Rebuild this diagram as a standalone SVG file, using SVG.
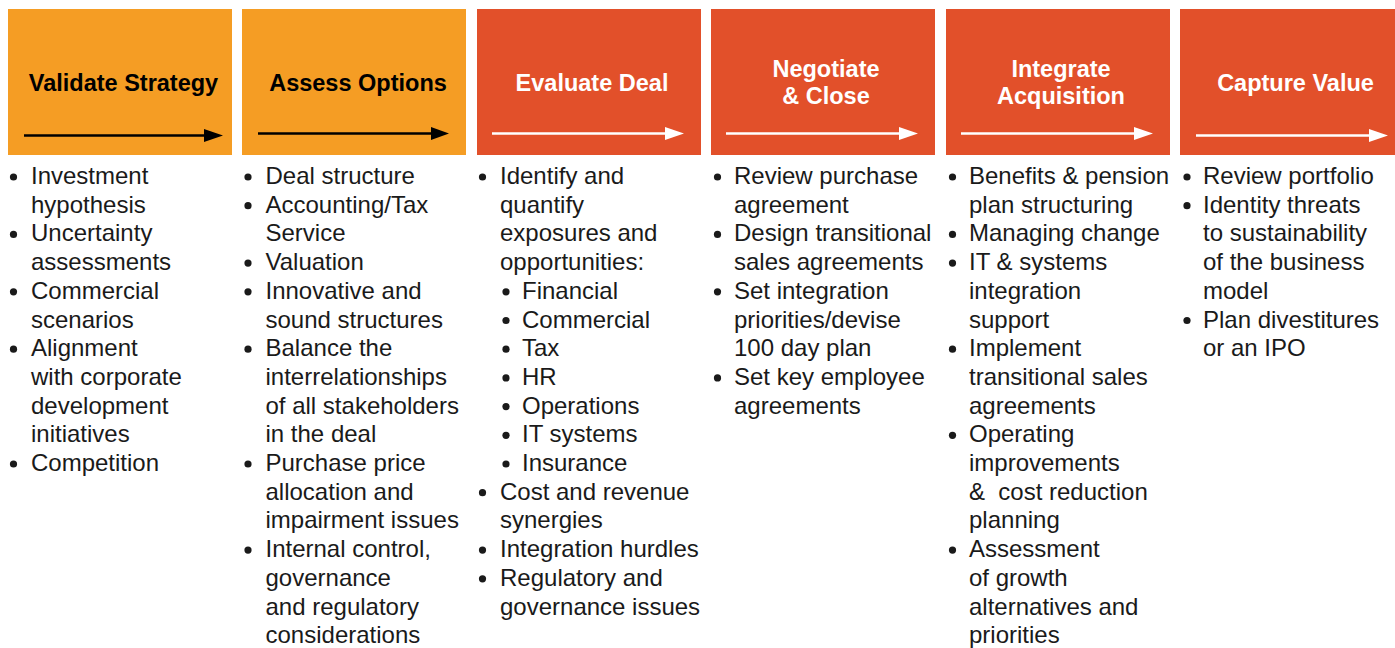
<svg xmlns="http://www.w3.org/2000/svg" width="1395" height="648" viewBox="0 0 1395 648">
<style>
.orange{fill:#F59D24}
.red{fill:#E2502A}
.tb{font-family:"Liberation Sans",Arial,Helvetica,sans-serif;font-weight:bold;font-size:23.5px;text-anchor:middle}
.tk{fill:#000}
.tw{fill:#fff}
.body{font-family:"Liberation Sans",Arial,Helvetica,sans-serif;font-size:24px;fill:#1a1a1a}
.dot{fill:#1a1a1a}
.lk{stroke:#000;stroke-width:2.4;fill:none}
.lw{stroke:#fff;stroke-width:2.4;fill:none}
.hk{fill:#000}
.hw{fill:#fff}
</style>
<rect width="1395" height="648" fill="#fff"/>

<g id="node-validate-strategy">
<rect class="orange" x="8" y="9" width="224" height="146"/>
<text class="tb tk" x="123.5" y="91">Validate Strategy</text>
<g class="body-list">
<circle class="dot" cx="13.5" cy="177" r="3.6"/>
<circle class="dot" cx="13.5" cy="234.4" r="3.6"/>
<circle class="dot" cx="13.5" cy="291.8" r="3.6"/>
<circle class="dot" cx="13.5" cy="349.2" r="3.6"/>
<circle class="dot" cx="13.5" cy="464" r="3.6"/>
<text class="body">
<tspan x="31" y="184">Investment</tspan>
<tspan x="31" y="212.7">hypothesis</tspan>
<tspan x="31" y="241.4">Uncertainty</tspan>
<tspan x="31" y="270.1">assessments</tspan>
<tspan x="31" y="298.8">Commercial</tspan>
<tspan x="31" y="327.5">scenarios</tspan>
<tspan x="31" y="356.2">Alignment</tspan>
<tspan x="31" y="384.9">with corporate</tspan>
<tspan x="31" y="413.6">development</tspan>
<tspan x="31" y="442.3">initiatives</tspan>
<tspan x="31" y="471">Competition</tspan>
</text>
</g>
</g>

<g id="node-assess-options">
<rect class="orange" x="242" y="9" width="224" height="146"/>
<text class="tb tk" x="358" y="91">Assess Options</text>
<circle class="dot" cx="248" cy="177" r="3.6"/>
<circle class="dot" cx="248" cy="205.7" r="3.6"/>
<circle class="dot" cx="248" cy="263.1" r="3.6"/>
<circle class="dot" cx="248" cy="291.8" r="3.6"/>
<circle class="dot" cx="248" cy="349.2" r="3.6"/>
<circle class="dot" cx="248" cy="464" r="3.6"/>
<circle class="dot" cx="248" cy="550.1" r="3.6"/>
<text class="body">
<tspan x="265.5" y="184">Deal structure</tspan>
<tspan x="265.5" y="212.7">Accounting/Tax</tspan>
<tspan x="265.5" y="241.4">Service</tspan>
<tspan x="265.5" y="270.1">Valuation</tspan>
<tspan x="265.5" y="298.8">Innovative and</tspan>
<tspan x="265.5" y="327.5">sound structures</tspan>
<tspan x="265.5" y="356.2">Balance the</tspan>
<tspan x="265.5" y="384.9">interrelationships</tspan>
<tspan x="265.5" y="413.6">of all stakeholders</tspan>
<tspan x="265.5" y="442.3">in the deal</tspan>
<tspan x="265.5" y="471">Purchase price</tspan>
<tspan x="265.5" y="499.7">allocation and</tspan>
<tspan x="265.5" y="528.4">impairment issues</tspan>
<tspan x="265.5" y="557.1">Internal control,</tspan>
<tspan x="265.5" y="585.8">governance</tspan>
<tspan x="265.5" y="614.5">and regulatory</tspan>
<tspan x="265.5" y="643.2">considerations</tspan>
</text>
</g>

<g id="node-evaluate-deal">
<rect class="red" x="477" y="9" width="224" height="146"/>
<text class="tb tw" x="592" y="91">Evaluate Deal</text>
<circle class="dot" cx="482.5" cy="177" r="3.6"/>
<circle class="dot" cx="506" cy="291.8" r="3.6"/>
<circle class="dot" cx="506" cy="320.5" r="3.6"/>
<circle class="dot" cx="506" cy="349.2" r="3.6"/>
<circle class="dot" cx="506" cy="377.9" r="3.6"/>
<circle class="dot" cx="506" cy="406.6" r="3.6"/>
<circle class="dot" cx="506" cy="435.3" r="3.6"/>
<circle class="dot" cx="506" cy="464" r="3.6"/>
<circle class="dot" cx="482.5" cy="492.7" r="3.6"/>
<circle class="dot" cx="482.5" cy="550.1" r="3.6"/>
<circle class="dot" cx="482.5" cy="578.8" r="3.6"/>
<text class="body">
<tspan x="500" y="184">Identify and</tspan>
<tspan x="500" y="212.7">quantify</tspan>
<tspan x="500" y="241.4">exposures and</tspan>
<tspan x="500" y="270.1">opportunities:</tspan>
<tspan x="522" y="298.8">Financial</tspan>
<tspan x="522" y="327.5">Commercial</tspan>
<tspan x="522" y="356.2">Tax</tspan>
<tspan x="522" y="384.9">HR</tspan>
<tspan x="522" y="413.6">Operations</tspan>
<tspan x="522" y="442.3">IT systems</tspan>
<tspan x="522" y="471">Insurance</tspan>
<tspan x="500" y="499.7">Cost and revenue</tspan>
<tspan x="500" y="528.4">synergies</tspan>
<tspan x="500" y="557.1">Integration hurdles</tspan>
<tspan x="500" y="585.8">Regulatory and</tspan>
<tspan x="500" y="614.5">governance issues</tspan>
</text>
</g>

<g id="node-negotiate-close">
<rect class="red" x="711" y="9" width="224" height="146"/>
<text class="tb tw" x="826" y="77">Negotiate</text>
<text class="tb tw" x="826" y="104">&amp; Close</text>
<circle class="dot" cx="717.5" cy="177" r="3.6"/>
<circle class="dot" cx="717.5" cy="234.4" r="3.6"/>
<circle class="dot" cx="717.5" cy="291.8" r="3.6"/>
<circle class="dot" cx="717.5" cy="377.9" r="3.6"/>
<text class="body">
<tspan x="734" y="184">Review purchase</tspan>
<tspan x="734" y="212.7">agreement</tspan>
<tspan x="734" y="241.4">Design transitional</tspan>
<tspan x="734" y="270.1">sales agreements</tspan>
<tspan x="734" y="298.8">Set integration</tspan>
<tspan x="734" y="327.5">priorities/devise</tspan>
<tspan x="734" y="356.2">100 day plan</tspan>
<tspan x="734" y="384.9">Set key employee</tspan>
<tspan x="734" y="413.6">agreements</tspan>
</text>
</g>

<g id="node-integrate-acquisition">
<rect class="red" x="946" y="9" width="224" height="146"/>
<text class="tb tw" x="1061" y="77">Integrate</text>
<text class="tb tw" x="1061" y="104">Acquisition</text>
<circle class="dot" cx="952.5" cy="177" r="3.6"/>
<circle class="dot" cx="952.5" cy="234.4" r="3.6"/>
<circle class="dot" cx="952.5" cy="263.1" r="3.6"/>
<circle class="dot" cx="952.5" cy="349.2" r="3.6"/>
<circle class="dot" cx="952.5" cy="435.3" r="3.6"/>
<circle class="dot" cx="952.5" cy="550.1" r="3.6"/>
<text class="body">
<tspan x="969" y="184">Benefits &amp; pension</tspan>
<tspan x="969" y="212.7">plan structuring</tspan>
<tspan x="969" y="241.4">Managing change</tspan>
<tspan x="969" y="270.1">IT &amp; systems</tspan>
<tspan x="969" y="298.8">integration</tspan>
<tspan x="969" y="327.5">support</tspan>
<tspan x="969" y="356.2">Implement</tspan>
<tspan x="969" y="384.9">transitional sales</tspan>
<tspan x="969" y="413.6">agreements</tspan>
<tspan x="969" y="442.3">Operating</tspan>
<tspan x="969" y="471">improvements</tspan>
<tspan x="969" y="499.7">&amp;&#160; cost reduction</tspan>
<tspan x="969" y="528.4">planning</tspan>
<tspan x="969" y="557.1">Assessment</tspan>
<tspan x="969" y="585.8">of growth</tspan>
<tspan x="969" y="614.5">alternatives and</tspan>
<tspan x="969" y="643.2">priorities</tspan>
</text>
</g>

<g id="node-capture-value">
<rect class="red" x="1180" y="9" width="215" height="146"/>
<text class="tb tw" x="1295.5" y="91">Capture Value</text>
<circle class="dot" cx="1187" cy="177" r="3.6"/>
<circle class="dot" cx="1187" cy="205.7" r="3.6"/>
<circle class="dot" cx="1187" cy="320.5" r="3.6"/>
<text class="body">
<tspan x="1203" y="184">Review portfolio</tspan>
<tspan x="1203" y="212.7">Identity threats</tspan>
<tspan x="1203" y="241.4">to sustainability</tspan>
<tspan x="1203" y="270.1">of the business</tspan>
<tspan x="1203" y="298.8">model</tspan>
<tspan x="1203" y="327.5">Plan divestitures</tspan>
<tspan x="1203" y="356.2">or an IPO</tspan>
</text>
</g>

<g id="connectors">
<line class="lk" x1="24" y1="135.5" x2="206" y2="135.5"/>
<polygon class="hk" points="204,129 223,135.5 204,142"/>
<line class="lk" x1="258" y1="133.5" x2="433" y2="133.5"/>
<polygon class="hk" points="431,127 449,133.5 431,140"/>
<line class="lw" x1="492" y1="133.5" x2="667" y2="133.5"/>
<polygon class="hw" points="665,127 684,133.5 665,140"/>
<line class="lw" x1="726" y1="133.5" x2="901" y2="133.5"/>
<polygon class="hw" points="899,127 918,133.5 899,140"/>
<line class="lw" x1="961" y1="133.5" x2="1136" y2="133.5"/>
<polygon class="hw" points="1134,127 1153,133.5 1134,140"/>
<line class="lw" x1="1196" y1="135.5" x2="1371" y2="135.5"/>
<polygon class="hw" points="1369,129 1388,135.5 1369,142"/>
</g>
</svg>
